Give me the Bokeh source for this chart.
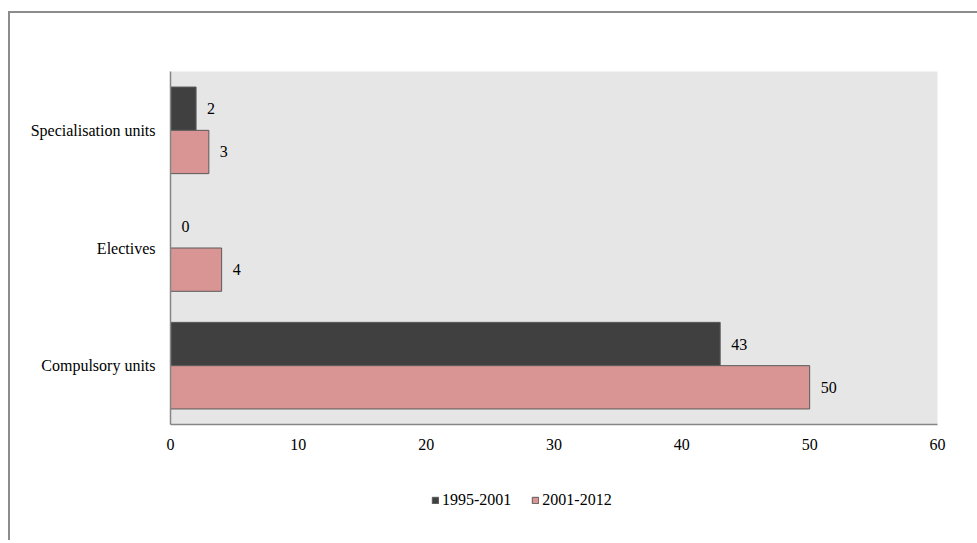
from bokeh.plotting import figure
from bokeh.layouts import column
from bokeh.models import (ColumnDataSource, Range1d, FixedTicker, Legend, LegendItem)
from bokeh.transform import dodge
from bokeh.core.properties import value
from bokeh.embed import file_html
from bokeh.resources import INLINE

categories = ["Compulsory units", "Electives", "Specialisation units"]
series_names = ["1995-2001", "2001-2012"]
values_1995_2001 = [43, 0, 2]
values_2001_2012 = [50, 4, 3]
x_ticks = [0, 10, 20, 30, 40, 50, 60]

FONT = "Times New Roman"
FS = "16px"
DARK = "#404040"
PINK = "#d99594"
EDGE = "#5a5a5a"

src = ColumnDataSource(dict(
    cat=categories,
    a=values_1995_2001,
    b=values_2001_2012,
    a_txt=[str(v) for v in values_1995_2001],
    b_txt=[str(v) for v in values_2001_2012],
))

OX, OY = 10, 13   # content origin inside the outer (CSS) border
W = 977 - OX

p = figure(width=W, height=451, y_range=categories, x_range=Range1d(0, 60),
           output_backend="svg", toolbar_location=None,
           min_border_left=170 - OX, min_border_right=40,
           min_border_top=71 - OY, min_border_bottom=40)

p.background_fill_color = "#e6e6e6"
p.border_fill_color = "white"
p.outline_line_color = None
p.xgrid.visible = False
p.ygrid.visible = False

bh = 0.368
r1 = p.hbar(y=dodge("cat", bh / 2, range=p.y_range), right="a", left=0, height=bh,
            source=src, fill_color=DARK, line_color=EDGE, line_width=1)
r2 = p.hbar(y=dodge("cat", -bh / 2, range=p.y_range), right="b", left=0, height=bh,
            source=src, fill_color=PINK, line_color=EDGE, line_width=1)

p.text(x="a", y=dodge("cat", bh / 2, range=p.y_range), text="a_txt", source=src,
       x_offset=11, text_align="left", text_baseline="middle",
       text_font=value(FONT), text_font_size=FS, text_color="black")
p.text(x="b", y=dodge("cat", -bh / 2, range=p.y_range), text="b_txt", source=src,
       x_offset=11, text_align="left", text_baseline="middle",
       text_font=value(FONT), text_font_size=FS, text_color="black")

for ax in (p.xaxis[0], p.yaxis[0]):
    ax.axis_line_color = "#868686"
    ax.axis_line_width = 1.5
    ax.major_tick_line_color = None
    ax.minor_tick_line_color = None
    ax.major_label_text_font = FONT
    ax.major_label_text_font_size = FS
    ax.major_label_text_color = "black"

p.xaxis.ticker = FixedTicker(ticks=x_ticks)
p.xaxis.major_label_standoff = 8
p.yaxis.major_label_standoff = 9

# legend strip underneath (own small figure; its bar renderers are hidden,
# only their legend swatches are shown)
q = figure(width=W, height=76, y_range=categories, x_range=Range1d(0, 60),
           output_backend="svg", toolbar_location=None,
           min_border=0, min_border_left=0, min_border_right=0,
           min_border_top=0, min_border_bottom=0)
q.axis.visible = False
q.xgrid.visible = False
q.ygrid.visible = False
q.outline_line_color = None
q.background_fill_color = "white"
q.border_fill_color = "white"
l1 = q.hbar(y=dodge("cat", bh / 2, range=q.y_range), right="a", left=0, height=bh,
            source=src, fill_color=DARK, line_color=EDGE, line_width=1, visible=False)
l2 = q.hbar(y=dodge("cat", -bh / 2, range=q.y_range), right="b", left=0, height=bh,
            source=src, fill_color=PINK, line_color=EDGE, line_width=1, visible=False)

legend = Legend(items=[LegendItem(label=series_names[0], renderers=[l1]),
                       LegendItem(label=series_names[1], renderers=[l2])],
                orientation="horizontal", location=(261, 30),
                glyph_width=8, glyph_height=8, label_standoff=3, spacing=20,
                label_height=20, label_text_font=FONT, label_text_font_size=FS,
                label_text_color="black",
                background_fill_alpha=0, border_line_color=None,
                inactive_fill_alpha=0,
                padding=0, margin=0)
q.add_layout(legend, "center")

layout = column(p, q, spacing=0)
layout.margin = (OY - 2, 0, 0, OX - 2)
layout.styles = {"border-left": "2px solid #8c8c8c", "border-top": "2px solid #8c8c8c"}

open("out.html", "w").write(file_html(layout, INLINE))
